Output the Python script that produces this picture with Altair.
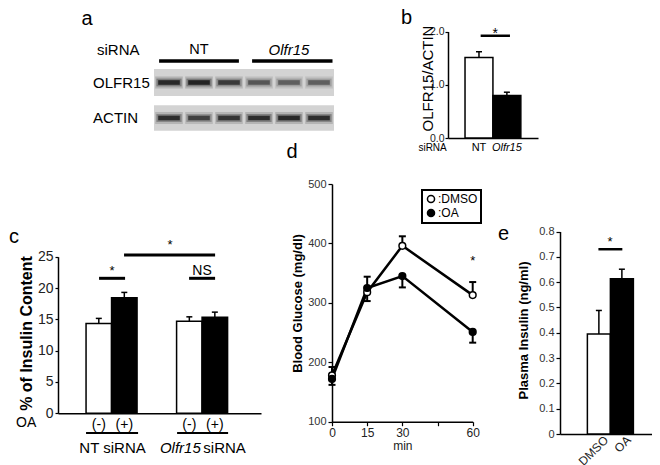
import altair as alt
import pandas as pd

W, H = 644, 457
OFF = 8
FONT = "Liberation Sans"

# ---------------- data ----------------
# panel a (western blot)
lanes = [0, 1, 2, 3, 4, 5]
olfr15_band = [0.95, 1.0, 0.8, 0.6, 0.55, 0.55]
actin_band = [0.9, 0.75, 0.85, 0.9, 0.95, 0.9]
blot_rows = ["OLFR15", "ACTIN"]
sirna_groups = ["NT", "Olfr15"]

# panel b
b_labels = ["NT", "Olfr15"]
b_mean = [1.51, 0.80]
b_err = [0.11, 0.06]

# panel c
c_oa = ["(-)", "(+)", "(-)", "(+)"]
c_mean = [14.35, 18.45, 14.7, 15.35]
c_err = [0.8, 0.85, 0.7, 0.8]

# panel d
d_min = [0, 15, 30, 60]
d_dmso = [178, 318, 396, 313]
d_dmso_err = [14, 15, 16, 22]
d_dmso_dir = [1, -1, 1, 1]
d_oa = [172, 325, 345, 251]
d_oa_err = [10, 19, 19, 18]
d_oa_dir = [-1, 1, -1, -1]

# panel e
e_labels = ["DMSO", "OA"]
e_mean = [0.395, 0.613]
e_err = [0.093, 0.038]


# ---------------- layout ----------------
def S(domain, r0, r1):
    return alt.Scale(domain=domain, range=[r0 - OFF, r1 - OFF], nice=False, zero=False)


SC = {
    "a": (S([-0.5, 5.5], 154, 334), S([-1, 1.5], 47, 135.75)),
    "b": (S([-0.11, 3.115], 448, 538), S([0, 2], 138, 31.5)),
    "c": (S([-1.1, 6.86], 58, 261), S([0, 25], 413.3, 256.7)),
    "d": (S([0, 60], 332, 472.7), S([100, 500], 421.7, 184)),
    "e": (S([-1.19, 3.07], 560, 658), S([0, 0.8], 434, 231.5)),
}
AXPOS = {"b": (448, 138), "c": (58, 413.3), "d": (332, 421.7), "e": (560, 434)}


def E(p, x=None, x2=None, y=None, y2=None, xaxis=None, yaxis=None):
    e = {}
    if x is not None:
        e["x"] = alt.X(x, type="quantitative", scale=SC[p][0], axis=xaxis)
    if x2 is not None:
        e["x2"] = alt.X2(x2)
    if y is not None:
        e["y"] = alt.Y(y, type="quantitative", scale=SC[p][1], axis=yaxis)
    if y2 is not None:
        e["y2"] = alt.Y2(y2)
    return e


def yaxis(p, values, title, tfs, tx, ty, lfs, bold=True, fmt=None, lcolor="#222",
          tsize=4, lpad=2):
    ax, ay = AXPOS[p]
    kw = dict(orient="left", offset=-(ax - OFF), values=values, grid=False,
              domainColor="black", domainWidth=1.5, tickColor="black", tickWidth=1.2,
              tickSize=tsize, labelFontSize=lfs, labelColor=lcolor, labelPadding=lpad,
              labelFont=FONT, title=title, titleFont=FONT, titleFontSize=tfs,
              titleFontWeight="bold" if bold else "normal", titleColor="black",
              titleAngle=270, titleAlign="center", titleBaseline="middle",
              titleX=tx - ax, titleY=ty - OFF)
    if fmt:
        kw["format"] = fmt
    return alt.Axis(**kw)


def xaxis_plain(p):
    ax, ay = AXPOS[p]
    return alt.Axis(orient="bottom", offset=(ay - OFF) - H, ticks=False, labels=False,
                    grid=False, domainColor="black", domainWidth=1.5, title=None)


def txt(p, df, size=12, align="center", baseline="middle", style="normal",
        weight="normal", angle=0, color="black"):
    return alt.Chart(df).mark_text(
        font=FONT, fontSize=size, align=align, baseline=baseline, fontStyle=style,
        fontWeight=weight, angle=angle, color=color
    ).encode(text=alt.Text("label:N"), **E(p, x="x", y="y"))


def errbars(p, df, xc, lo, hi, width=1.5, cap=7):
    rule = alt.Chart(df).mark_rule(color="black", strokeWidth=width).encode(
        **E(p, x=xc, y=lo, y2=hi))
    tick = alt.Chart(df).mark_tick(orient="horizontal", color="black", size=cap,
                                   thickness=width, opacity=1).encode(**E(p, x=xc, y=hi))
    return [rule, tick]


layers = []

# ---------------- panel a ----------------
blot_bg = pd.DataFrame({"x0": [-0.5, -0.5], "x1": [5.5, 5.5],
                        "y0": [-0.38, 0.64], "y1": [0.38, 1.36]})
bands = pd.DataFrame([{"lane": l, "row": r, "v": v}
                      for r, vals in enumerate([olfr15_band, actin_band])
                      for l, v in zip(lanes, vals)])
halo = bands.assign(x0=bands.lane - 0.46, x1=bands.lane + 0.46,
                    y0=bands.row - 0.17, y1=bands.row + 0.17, op=bands.v * 0.18)
mid = bands.assign(x0=bands.lane - 0.42, x1=bands.lane + 0.42,
                   y0=bands.row - 0.11, y1=bands.row + 0.11, op=bands.v * 0.35)
core = bands.assign(x0=bands.lane - 0.36, x1=bands.lane + 0.36,
                    y0=bands.row - 0.065, y1=bands.row + 0.065, op=bands.v * 0.85)
layers.append(alt.Chart(blot_bg).mark_rect(color="#d3d3d3").encode(
    **E("a", "x0", "x1", "y0", "y1")))
for df in (halo, mid, core):
    layers.append(alt.Chart(df).mark_rect(color="#151515").encode(
        opacity=alt.Opacity("op:Q", scale=None), **E("a", "x0", "x1", "y0", "y1")))
grp = pd.DataFrame({"x0": [-0.33, 2.77], "x1": [2.33, 5.45], "y": [-0.606, -0.606]})
layers.append(alt.Chart(grp).mark_rule(color="black", strokeWidth=3.5).encode(
    **E("a", x="x0", x2="x1", y="y")))
layers.append(txt("a", pd.DataFrame({"label": [sirna_groups[0]], "x": [1], "y": [-0.915]}), size=14.5))
layers.append(txt("a", pd.DataFrame({"label": [sirna_groups[1]], "x": [4], "y": [-0.915]}),
                  size=15, style="italic"))
layers.append(txt("a", pd.DataFrame({"label": ["siRNA"] + blot_rows, "x": [-2.4, -2.53, -2.53],
                                     "y": [-0.915, 0, 1.0]}), size=15, align="left"))

# ---------------- panel b ----------------
b_df = pd.DataFrame({"label": b_labels, "x0": [0.5, 1.5], "x1": [1.5, 2.5], "xc": [1.0, 2.0],
                     "mean": b_mean, "top": [m + e for m, e in zip(b_mean, b_err)],
                     "zero": [0, 0], "fill": ["white", "black"]})
layers.append(alt.Chart(b_df).mark_rect(stroke="black", strokeWidth=1.5).encode(
    fill=alt.Fill("fill:N", scale=None),
    **E("b", "x0", "x1", "mean", "zero", xaxis=xaxis_plain("b"),
        yaxis=yaxis("b", [0, 1, 2], "OLFR15/ACTIN", 15, 427, 78, 10.5, bold=False,
                    tsize=3, lpad=1))))
layers += errbars("b", b_df, "xc", "mean", "top", 1.5, 6)
layers.append(alt.Chart(pd.DataFrame({"x0": [1.06], "x1": [2.11], "y": [1.92]})).mark_rule(
    color="black", strokeWidth=2.5).encode(**E("b", x="x0", x2="x1", y="y")))
layers.append(txt("b", pd.DataFrame({"label": ["*"], "x": [1.585], "y": [1.87]}), size=14,
                  baseline="alphabetic"))
layers.append(txt("b", pd.DataFrame({"label": ["siRNA"], "x": [-1.17], "y": [-0.19]}), size=10,
                  align="left"))
layers.append(txt("b", pd.DataFrame({"label": [b_labels[0]], "x": [1.0], "y": [-0.19]}), size=11))
layers.append(txt("b", pd.DataFrame({"label": [b_labels[1]], "x": [2.0], "y": [-0.19]}), size=11,
                  style="italic"))

# ---------------- panel c ----------------
c_x0 = [0, 1, 3.55, 4.55]
c_df = pd.DataFrame({"label": c_oa, "x0": c_x0, "x1": [v + 1 for v in c_x0],
                     "xc": [v + 0.5 for v in c_x0], "mean": c_mean,
                     "top": [m + e for m, e in zip(c_mean, c_err)], "zero": 0,
                     "fill": ["white", "black", "white", "black"], "y": -1.87})
layers.append(alt.Chart(c_df).mark_rect(stroke="black", strokeWidth=1.5).encode(
    fill=alt.Fill("fill:N", scale=None),
    **E("c", "x0", "x1", "mean", "zero", xaxis=xaxis_plain("c"),
        yaxis=yaxis("c", [0, 5, 10, 15, 20, 25], "% of Insulin Content", 16, 26, 333, 14,
                    tsize=3))))
layers += errbars("c", c_df, "xc", "mean", "top", 1.5, 6)
c_sig = pd.DataFrame({"x0": [0.51, 4.04, 1.49], "x1": [1.53, 5.06, 5.06],
                      "y": [21.55, 21.55, 25.27]})
layers.append(alt.Chart(c_sig).mark_rule(color="black", strokeWidth=3).encode(
    **E("c", x="x0", x2="x1", y="y")))
layers.append(txt("c", pd.DataFrame({"label": ["*", "*"], "x": [1.02, 3.29], "y": [22.0, 26.2]}),
                  size=13, baseline="alphabetic"))
layers.append(txt("c", pd.DataFrame({"label": ["NS"], "x": [4.55], "y": [22.08]}), size=14,
                  baseline="alphabetic"))
layers.append(txt("c", c_df[["label", "xc", "y"]].rename(columns={"xc": "x"}), size=14))
c_ul = pd.DataFrame({"x0": [0, 3.57], "x1": [2.04, 5.57], "y": [-3.14, -3.14]})
layers.append(alt.Chart(c_ul).mark_rule(color="black", strokeWidth=2).encode(
    **E("c", x="x0", x2="x1", y="y")))
layers.append(txt("c", pd.DataFrame({"label": ["NT siRNA"], "x": [1.04], "y": [-5.54]}), size=15))
layers.append(txt("c", pd.DataFrame({"label": ["Olfr15"], "x": [4.5], "y": [-5.54]}), size=15,
                  align="right", style="italic"))
layers.append(txt("c", pd.DataFrame({"label": ["siRNA"], "x": [4.6], "y": [-5.54]}), size=15,
                  align="left"))
layers.append(txt("c", pd.DataFrame({"label": ["OA"], "x": [-2.35], "y": [-1.55]}), size=14))

# ---------------- panel d ----------------
d_rows = []
for s, vals, errs, dirs in [("DMSO", d_dmso, d_dmso_err, d_dmso_dir),
                            ("OA", d_oa, d_oa_err, d_oa_dir)]:
    for t, v, e, dr in zip(d_min, vals, errs, dirs):
        d_rows.append({"series": s, "min": t, "value": v, "end": v + dr * e})
d_df = pd.DataFrame(d_rows)
dx_axis = alt.Axis(orient="bottom", offset=(421.7 - OFF) - H, values=[0, 15, 30, 45, 60],
                   labelExpr="datum.value == 45 ? '' : datum.label", grid=False,
                   domainColor="black", domainWidth=1.5, tickColor="black", tickWidth=1.2,
                   tickSize=4, labelFontSize=12, labelColor="#222", labelFont=FONT,
                   labelPadding=2, labelFlush=False, title="min", titleFont=FONT,
                   titleFontSize=12, titleFontWeight="normal", titleColor="#222",
                   titlePadding=2)
layers.append(alt.Chart(d_df).mark_line(color="black", strokeWidth=2.5).encode(
    detail="series:N",
    **E("d", x="min", y="value", xaxis=dx_axis,
        yaxis=yaxis("d", [100, 200, 300, 400, 500], "Blood Glucose (mg/dl)", 13, 297, 303, 11,
                    lcolor="#333"))))
layers += errbars("d", d_df, "min", "value", "end", 2, 7)
layers.append(alt.Chart(d_df).mark_point(filled=True, stroke="black", strokeWidth=1.5, size=45,
                                         opacity=1, shape="circle").encode(
    fill=alt.Fill("series:N", scale=alt.Scale(domain=["DMSO", "OA"], range=["white", "black"]),
                  legend=alt.Legend(orient="none", legendX=414, legendY=182, title=None,
                                    labelExpr="':' + datum.label", labelFontSize=12,
                                    labelFont=FONT, labelColor="black", symbolType="circle",
                                    symbolSize=50, symbolStrokeColor="black",
                                    symbolStrokeWidth=1.5, labelOffset=1, rowPadding=0,
                                    padding=3, strokeColor="black", fillColor="white")),
    **E("d", x="min", y="value")))
layers.append(txt("d", pd.DataFrame({"label": ["*"], "x": [60], "y": [363]}), size=13,
                  baseline="alphabetic", color="black"))

# ---------------- panel e ----------------
e_df = pd.DataFrame({"label": e_labels, "x0": [0, 1], "x1": [1, 2], "xc": [0.5, 1.5],
                     "mean": e_mean, "top": [m + e for m, e in zip(e_mean, e_err)],
                     "zero": 0, "fill": ["white", "black"]})
layers.append(alt.Chart(e_df).mark_rect(stroke="black", strokeWidth=1.5).encode(
    fill=alt.Fill("fill:N", scale=None),
    **E("e", "x0", "x1", "mean", "zero", xaxis=xaxis_plain("e"),
        yaxis=yaxis("e", [0, 0.1, 0.2, 0.3, 0.4, 0.5, 0.6, 0.7, 0.8], "Plasma Insulin (ng/ml)",
                    13, 523, 330, 11, fmt=".1~f", lcolor="#333"))))
layers += errbars("e", e_df, "xc", "mean", "top", 1.5, 6)
layers.append(alt.Chart(pd.DataFrame({"x0": [0.48], "x1": [1.52], "y": [0.73]})).mark_rule(
    color="black", strokeWidth=2.5).encode(**E("e", x="x0", x2="x1", y="y")))
layers.append(txt("e", pd.DataFrame({"label": ["*"], "x": [0.99], "y": [0.741]}), size=13,
                  baseline="alphabetic", color="black"))
layers.append(txt("e", pd.DataFrame({"label": e_labels, "x": [0.82, 1.8], "y": [-0.016, -0.016]}),
                  size=12, align="right", angle=315, color="#222"))

# ---------------- panel letters ----------------
letters = [("a", 87, 25), ("b", 406.5, 23.5), ("c", 14, 243), ("d", 292, 158), ("e", 503.5, 240)]
for ch, lx, ly in letters:
    layers.append(alt.Chart(pd.DataFrame({"label": [ch]})).mark_text(
        font=FONT, fontSize=20, align="center", baseline="alphabetic", color="black").encode(
        text="label:N", x=alt.value(lx - OFF), y=alt.value(ly - OFF)))

chart = alt.layer(*layers).resolve_scale(x="independent", y="independent").properties(
    width=W, height=H, autosize=alt.AutoSizeParams(type="none"), padding=0
).configure_view(stroke=None).configure_legend(strokeWidth=2)

chart.save("out.html", embed_options={"renderer": "svg", "actions": False})
